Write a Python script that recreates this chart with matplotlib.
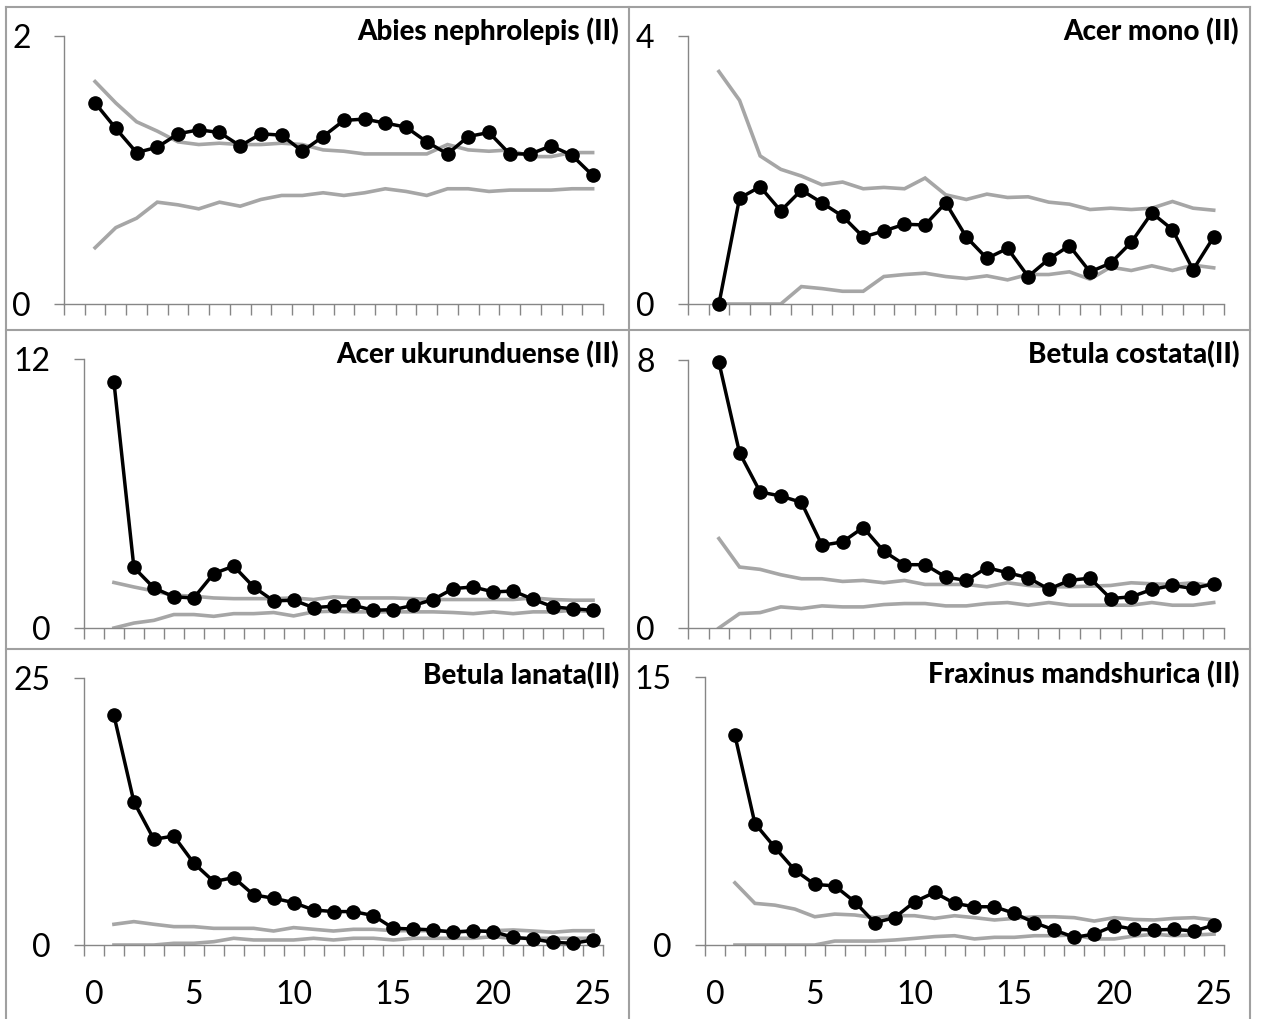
import numpy as np
import matplotlib
matplotlib.use("Agg")
import matplotlib.pyplot as plt
from matplotlib.lines import Line2D

plt.rcParams['font.family'] = ['Lato', 'DejaVu Sans']

W, H = 1261, 1019
years = np.arange(1, 26)

titles = ["Abies nephrolepis (II)", "Acer mono (II)", "Acer ukurunduense (II)",
          "Betula costata(II)", "Betula lanata(II)", "Fraxinus mandshurica (II)"]
ymax = [2, 4, 12, 8, 25, 15]

abies_obs = [1.50, 1.31, 1.13, 1.17, 1.27, 1.30, 1.28, 1.18, 1.27, 1.26, 1.14, 1.25, 1.37,
             1.38, 1.35, 1.32, 1.21, 1.12, 1.25, 1.28, 1.12, 1.12, 1.18, 1.11, 0.96]
abies_hi = [1.66, 1.50, 1.36, 1.29, 1.21, 1.19, 1.20, 1.19, 1.19, 1.20, 1.19, 1.15, 1.14,
            1.12, 1.12, 1.12, 1.12, 1.19, 1.15, 1.14, 1.15, 1.10, 1.10, 1.13, 1.13]
abies_lo = [0.42, 0.57, 0.64, 0.76, 0.74, 0.71, 0.76, 0.73, 0.78, 0.81, 0.81, 0.83, 0.81,
            0.83, 0.86, 0.84, 0.81, 0.86, 0.86, 0.84, 0.85, 0.85, 0.85, 0.86, 0.86]

mono_obs = [0.00, 1.58, 1.75, 1.39, 1.70, 1.51, 1.31, 1.00, 1.09, 1.19, 1.18, 1.51, 1.00,
            0.68, 0.83, 0.41, 0.67, 0.87, 0.48, 0.61, 0.92, 1.36, 1.11, 0.51, 1.00]
mono_hi = [3.47, 3.04, 2.21, 2.01, 1.91, 1.78, 1.82, 1.72, 1.74, 1.72, 1.88, 1.63, 1.56,
           1.64, 1.59, 1.60, 1.52, 1.49, 1.41, 1.43, 1.41, 1.43, 1.53, 1.43, 1.40]
mono_lo = [0.00, 0.00, 0.00, 0.00, 0.26, 0.23, 0.19, 0.19, 0.41, 0.44, 0.46, 0.41, 0.38,
           0.42, 0.36, 0.44, 0.44, 0.48, 0.37, 0.55, 0.50, 0.57, 0.50, 0.58, 0.54]

ukur_obs = [10.97, 2.70, 1.79, 1.39, 1.34, 2.43, 2.76, 1.83, 1.21, 1.24, 0.91, 0.97, 1.01,
            0.79, 0.82, 1.01, 1.27, 1.76, 1.83, 1.61, 1.65, 1.28, 0.94, 0.86, 0.79]
ukur_hi = [2.03, 1.83, 1.65, 1.46, 1.42, 1.34, 1.31, 1.31, 1.31, 1.34, 1.27, 1.39, 1.34,
           1.34, 1.34, 1.31, 1.27, 1.27, 1.27, 1.27, 1.27, 1.34, 1.27, 1.24, 1.24]
ukur_lo = [0.00, 0.22, 0.34, 0.60, 0.60, 0.52, 0.64, 0.64, 0.69, 0.54, 0.72, 0.75, 0.72,
           0.72, 0.72, 0.72, 0.72, 0.69, 0.64, 0.72, 0.64, 0.72, 0.72, 0.79, 0.72]

cost_obs = [7.93, 5.23, 4.06, 3.94, 3.75, 2.47, 2.57, 3.00, 2.29, 1.89, 1.89, 1.52, 1.42,
            1.80, 1.65, 1.50, 1.16, 1.42, 1.49, 0.88, 0.93, 1.15, 1.27, 1.18, 1.32]
cost_hi = [2.67, 1.82, 1.75, 1.59, 1.47, 1.47, 1.39, 1.42, 1.35, 1.42, 1.30, 1.30, 1.30,
           1.23, 1.35, 1.27, 1.23, 1.23, 1.25, 1.27, 1.35, 1.32, 1.30, 1.35, 1.25]
cost_lo = [0.00, 0.43, 0.46, 0.63, 0.58, 0.66, 0.63, 0.63, 0.70, 0.73, 0.73, 0.66, 0.66,
           0.73, 0.76, 0.68, 0.76, 0.68, 0.68, 0.68, 0.68, 0.76, 0.68, 0.68, 0.76]

lana_obs = [21.5, 13.4, 9.9, 10.2, 7.66, 5.94, 6.31, 4.69, 4.38, 3.97, 3.28, 3.13, 3.13,
            2.75, 1.56, 1.50, 1.41, 1.19, 1.34, 1.25, 0.72, 0.56, 0.25, 0.16, 0.47]
lana_hi = [1.94, 2.19, 1.94, 1.72, 1.72, 1.56, 1.56, 1.56, 1.31, 1.63, 1.47, 1.31, 1.47,
           1.47, 1.34, 1.34, 1.34, 1.31, 1.25, 1.34, 1.41, 1.31, 1.19, 1.34, 1.34]
lana_lo = [0.00, 0.00, 0.00, 0.16, 0.16, 0.31, 0.63, 0.47, 0.47, 0.47, 0.63, 0.47, 0.63,
           0.63, 0.47, 0.63, 0.63, 0.63, 0.63, 0.78, 0.63, 0.63, 0.63, 0.63, 0.63]

frax_obs = [11.73, 6.80, 5.46, 4.19, 3.39, 3.31, 2.42, 1.25, 1.53, 2.42, 2.94, 2.33, 2.14,
            2.14, 1.77, 1.25, 0.84, 0.43, 0.61, 1.08, 0.88, 0.84, 0.88, 0.78, 1.12]
frax_hi = [3.48, 2.33, 2.23, 2.01, 1.58, 1.73, 1.68, 1.53, 1.64, 1.64, 1.49, 1.64, 1.53,
           1.40, 1.49, 1.58, 1.58, 1.53, 1.34, 1.53, 1.43, 1.40, 1.49, 1.53, 1.40]
frax_lo = [0.00, 0.00, 0.00, 0.00, 0.00, 0.22, 0.22, 0.22, 0.28, 0.37, 0.47, 0.52, 0.34,
           0.43, 0.43, 0.52, 0.52, 0.56, 0.34, 0.34, 0.50, 0.60, 0.52, 0.56, 0.61]

series = [(abies_obs, abies_hi, abies_lo), (mono_obs, mono_hi, mono_lo),
          (ukur_obs, ukur_hi, ukur_lo), (cost_obs, cost_hi, cost_lo),
          (lana_obs, lana_hi, lana_lo), (frax_obs, frax_hi, frax_lo)]

# plot area boxes in pixels: left, top, right, bottom
boxes = [(64, 36, 603, 304), (688, 36, 1224, 304),
         (84, 359, 603, 628), (688, 360, 1224, 628),
         (84, 678, 603, 945), (705, 677, 1224, 945)]
# title anchor (right edge, baseline) in pixels
title_pos = [(619, 40), (1239, 40), (619, 363), (1239, 363), (619, 684), (1239, 683)]

fig = plt.figure(figsize=(W / 100, H / 100), dpi=100)

axis_col = '#868686'
band_col = '#a6a6a6'

for i, (obs, hi, lo) in enumerate(series):
    l, t, r, b = boxes[i]
    ax = fig.add_axes([l / W, 1 - b / H, (r - l) / W, (b - t) / H])
    ax.plot(years, hi, color=band_col, lw=2.6, solid_joinstyle='miter')
    ax.plot(years, lo, color=band_col, lw=2.6, solid_joinstyle='miter')
    ax.plot(years, obs, color='black', lw=2.5, marker='o', ms=9.5,
            clip_on=False, zorder=3)
    ax.set_xlim(-0.5, 25.5)
    ax.set_ylim(0, ymax[i])
    for s in ['top', 'right']:
        ax.spines[s].set_visible(False)
    for s in ['left', 'bottom']:
        ax.spines[s].set_color(axis_col)
        ax.spines[s].set_linewidth(1.0)
    ax.set_yticks([0, ymax[i]])
    ax.tick_params(axis='y', length=7, width=1.0, color=axis_col, pad=17,
                   labelsize=23)
    ax.set_xticks(np.arange(-0.5, 26, 1.0), minor=True)
    ax.set_xticks(np.arange(0, 26, 5))
    ax.tick_params(axis='x', which='minor', length=8, width=1.0, color=axis_col)
    if i >= 4:
        ax.tick_params(axis='x', which='major', length=0, pad=25, labelsize=23)
    else:
        ax.tick_params(axis='x', which='major', length=0, labelbottom=False)
    ax.patch.set_alpha(0)
    tx, ty = title_pos[i]
    fig.text(tx / W, 1 - ty / H, titles[i], ha='right', va='baseline',
             fontsize=20, fontweight='black')

# panel frame lines
frame = dict(color='#a0a0a0', lw=1.5)
fig.add_artist(Line2D([6 / W, 6 / W], [0, 1 - 7 / H], **frame))
fig.add_artist(Line2D([6 / W, 1250 / W], [1 - 7 / H, 1 - 7 / H], **frame))
fig.add_artist(Line2D([1250 / W, 1250 / W], [0, 1 - 7 / H], **frame))
fig.add_artist(Line2D([629 / W, 629 / W], [0, 1 - 7 / H], **frame))
fig.add_artist(Line2D([6 / W, 1250 / W], [1 - 330 / H, 1 - 330 / H], **frame))
fig.add_artist(Line2D([6 / W, 1250 / W], [1 - 649 / H, 1 - 649 / H], **frame))

fig.savefig('out.png', dpi=100)
